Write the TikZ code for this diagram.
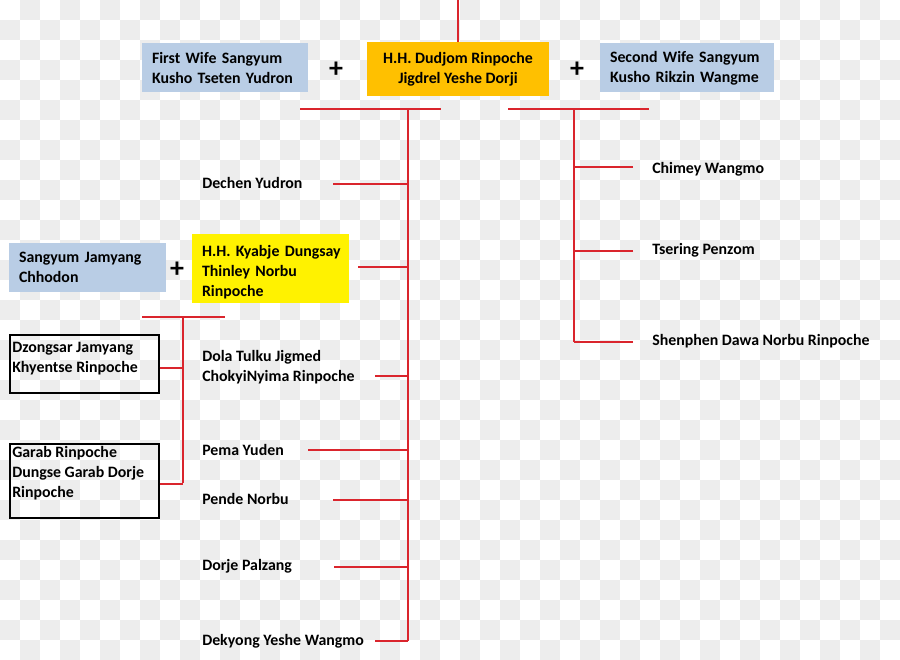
\documentclass[tikz,border=0pt]{standalone}
\usepackage{fontspec}
\setmainfont{Carlito}
\definecolor{famred}{RGB}{218,37,45}
\definecolor{wifeblue}{RGB}{185,205,229}
\definecolor{dudjomorange}{RGB}{255,192,0}
\definecolor{checkgrey}{RGB}{237,237,237}

\begin{document}
\begin{tikzpicture}[x=0.75pt,y=-0.75pt,
    font=\fontsize{11.9}{15}\selectfont\bfseries,
    link/.style={famred,line width=1.1pt},
    wife/.style={fill=wifeblue,inner xsep=7.5pt,text width=#1,align=left,minimum height=36.75pt},
    outline/.style={draw,line width=1.2pt,minimum width=111.75pt,anchor=north west},
    child/.style={anchor=west,inner sep=0pt,align=left},
    plus/.style={font=\fontsize{21}{21}\selectfont\bfseries,inner sep=0pt}]
    \useasboundingbox (0,0) rectangle (900,660);
    \foreach \i in {0,...,44} \foreach \j in {0,...,32} {
        \pgfmathtruncatemacro\k{\i+\j}
        \ifodd\k \fill[checkgrey] (20*\i,20*\j) rectangle ++(20,20); \fi
    }

    \node[wife=109.5pt] (firstwife) at (225,68) {First Wife Sangyum\\Kusho Tseten Yudron};
    \node[fill=dudjomorange,minimum width=136.5pt,minimum height=40.5pt,align=center] (dudjom) at (458,69) {H.H. Dudjom Rinpoche\\Jigdrel Yeshe Dorji};
    \node[wife=115.5pt] (secondwife) at (687,68) {Second Wife Sangyum\\Kusho Rikzin Wangme};
    \node[plus] (plusA) at (336,70) {+};
    \node[plus] (plusB) at (577,70) {+};

    \node[wife=102.75pt] (jamyang) at (87.5,267) {Sangyum Jamyang\\Chhodon};
    \node[plus] (plusC) at (177,270) {+};
    \node[fill=yellow,inner xsep=7.5pt,inner ysep=0pt,text width=102.75pt,align=left,minimum height=51.75pt] (thinley) at (270.5,268.5) {\rule{0pt}{14.5pt}H.H.~Kyabje~Dungsay\\Thinley Norbu\\Rinpoche};

    \node[outline,minimum height=43.5pt] (dzongsar) at (9,334) {};
    \node[child] (dzongsartext) at (12,359) {Dzongsar Jamyang\\Khyentse Rinpoche};
    \node[outline,minimum height=55.5pt] (garab) at (9,443) {};
    \node[child] (garabtext) at (12,472.7) {Garab Rinpoche\\Dungse Garab Dorje\\Rinpoche};

    \node[child] (dechen) at (202,183) {Dechen Yudron};
    \node[child] (dola) at (202,367) {Dola Tulku Jigmed\\ChokyiNyima Rinpoche};
    \node[child] (pema) at (202,450) {Pema Yuden};
    \node[child] (pende) at (202,499) {Pende Norbu};
    \node[child] (dorje) at (202,566) {Dorje Palzang};
    \node[child] (dekyong) at (202,641) {Dekyong Yeshe Wangmo};
    \node[child] (chimey) at (652,169) {Chimey Wangmo};
    \node[child] (tsering) at (652,250) {Tsering Penzom};
    \node[child] (shenphen) at (652,341) {Shenphen Dawa Norbu Rinpoche};

    \coordinate (top) at (458,0);
    \coordinate (barL) at (300,109);
    \coordinate (barLend) at (441,109);
    \coordinate (trunkL) at (408,109);
    \coordinate (barR) at (508,109);
    \coordinate (barRend) at (649,109);
    \coordinate (trunkR) at (574,109);
    \coordinate (barS) at (142,317);
    \coordinate (barSend) at (225,317);
    \coordinate (trunkS) at (183,317);

    \draw[link] (top) -- (dudjom.north);
    \draw[link] (barL) -- (barLend);
    \draw[link] (barR) -- (barRend);
    \draw[link] (barS) -- (barSend);
    \draw[link] (trunkL) -- (trunkL |- 0,641);
    \draw[link] (trunkR) -- (trunkR |- 0,342);
    \draw[link] (trunkS) -- (trunkS |- 0,483);

    \foreach \name/\sx/\sy in {dechen/333/184, thinley/358/267, dola/375/376, pema/308/450,
        pende/333/500, dorje/334/567, dekyong/375/641} {
        \coordinate (\name-tip) at (\sx,\sy);
        \draw[link] (\name-tip) -- (\name-tip -| trunkL);
    }
    \foreach \name/\sy in {chimey/167, tsering/251, shenphen/342} {
        \coordinate (\name-tip) at (633,\sy);
        \draw[link] (\name-tip) -- (\name-tip -| trunkR);
    }
    \draw[link] ([yshift=-3pt]dzongsar.east) -- ([yshift=-3pt]dzongsar.east -| trunkS);
    \draw[link] ([yshift=-2.25pt]garab.east) -- ([yshift=-2.25pt]garab.east -| trunkS);
\end{tikzpicture}
\end{document}
